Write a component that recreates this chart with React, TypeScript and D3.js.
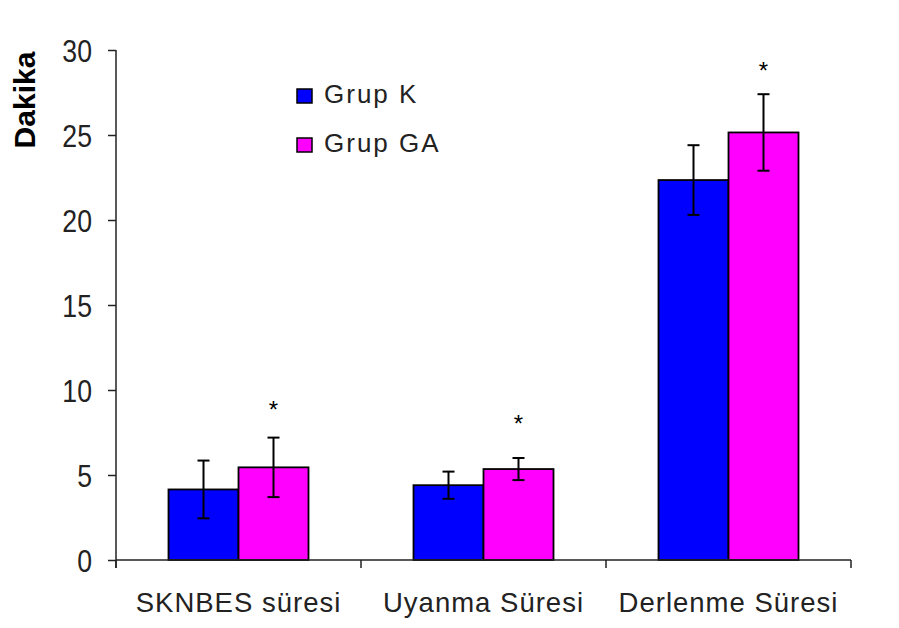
import { useEffect, useRef } from 'react'
import * as d3 from 'd3'

const WIDTH = 899
const HEIGHT = 628

const categories = ['SKNBES süresi', 'Uyanma Süresi', 'Derlenme Süresi']
const seriesNames = ['Grup K', 'Grup GA']
const seriesColors = ['#0000ff', '#ff00ff']

// mean and error for each group
const grupK = [4.15, 4.4, 22.35]
const grupKErr = [1.7, 0.8, 2.05]
const grupGA = [5.45, 5.35, 25.15]
const grupGAErr = [1.75, 0.65, 2.25]

// height where the significance star sits, per category
const starValues = [9.2, 8.35, 29.1]

const yTicks = [0, 5, 10, 15, 20, 25, 30]

const LEFT = 116
const RIGHT = 851
const TOP = 50
const BOTTOM = 560

function App() {
  const svgRef = useRef<SVGSVGElement | null>(null)

  useEffect(() => {
    if (!svgRef.current) return
    const svg = d3.select(svgRef.current)
    svg.selectAll('*').remove()

    const y = d3.scaleLinear().domain([0, 30]).range([BOTTOM, TOP])
    const x = d3.scaleBand<string>().domain(categories).range([LEFT, RIGHT]).padding(0)
    const x1 = d3.scaleBand<string>().domain(seriesNames).range([0, x.bandwidth()])
      .paddingInner(0).paddingOuter(0.75)

    const rows = categories.map((c, i) => ({
      cat: c,
      vals: [
        { s: seriesNames[0], v: grupK[i], e: grupKErr[i], color: seriesColors[0] },
        { s: seriesNames[1], v: grupGA[i], e: grupGAErr[i], color: seriesColors[1] },
      ],
    }))

    // bars
    const groups = svg.append('g').selectAll('g').data(rows).enter().append('g')
      .attr('transform', d => `translate(${x(d.cat)},0)`)

    groups.selectAll('rect').data(d => d.vals).enter().append('rect')
      .attr('x', d => x1(d.s)!)
      .attr('y', d => y(d.v))
      .attr('width', x1.bandwidth())
      .attr('height', d => y(0) - y(d.v))
      .attr('fill', d => d.color)
      .attr('stroke', '#000')
      .attr('stroke-width', 1.8)

    // error bars
    const cap = 6
    const eb = groups.selectAll('g.err').data(d => d.vals).enter().append('g').attr('class', 'err')
      .attr('stroke', '#000').attr('stroke-width', 2)
    eb.append('line')
      .attr('x1', d => x1(d.s)! + x1.bandwidth() / 2)
      .attr('x2', d => x1(d.s)! + x1.bandwidth() / 2)
      .attr('y1', d => y(d.v + d.e))
      .attr('y2', d => y(d.v - d.e))
    eb.append('line')
      .attr('x1', d => x1(d.s)! + x1.bandwidth() / 2 - cap)
      .attr('x2', d => x1(d.s)! + x1.bandwidth() / 2 + cap)
      .attr('y1', d => y(d.v + d.e))
      .attr('y2', d => y(d.v + d.e))
    eb.append('line')
      .attr('x1', d => x1(d.s)! + x1.bandwidth() / 2 - cap)
      .attr('x2', d => x1(d.s)! + x1.bandwidth() / 2 + cap)
      .attr('y1', d => y(d.v - d.e))
      .attr('y2', d => y(d.v - d.e))

    // stars
    groups.append('text')
      .attr('x', x1(seriesNames[1])! + x1.bandwidth() / 2)
      .attr('y', (_d, i) => y(starValues[i]) + 14)
      .attr('text-anchor', 'middle')
      .attr('font-family', 'Liberation Sans, Arial, sans-serif')
      .attr('font-size', 24)
      .attr('fill', '#000')
      .text('*')

    // y axis
    const yAxis = svg.append('g')
      .attr('transform', `translate(${LEFT},0)`)
      .call(d3.axisLeft(y).tickValues(yTicks).tickSize(8).tickFormat(d3.format('d')))
    yAxis.select('.domain').attr('stroke', '#222').attr('stroke-width', 1.5)
      .attr('d', `M0,${TOP}V${BOTTOM + 8}`)
    yAxis.selectAll('.tick line').attr('stroke', '#222').attr('stroke-width', 1.5)
    // labels are narrow and tall in the original
    yAxis.selectAll('.tick text')
      .attr('x', 0)
      .attr('transform', 'translate(-24,0) scale(0.86,1)')
      .attr('font-family', 'Liberation Sans, Arial, sans-serif')
      .attr('font-size', 31)
      .attr('fill', '#222')
      .attr('dy', '0.36em')

    // x axis
    const xAxis = svg.append('g')
      .attr('transform', `translate(0,${BOTTOM})`)
      .call(d3.axisBottom(x).tickSize(0))
    xAxis.select('.domain').attr('stroke', '#222').attr('stroke-width', 1.5)
      .attr('d', `M${LEFT},0H${RIGHT}`)
    xAxis.selectAll('.tick text')
      .attr('font-family', 'Liberation Sans, Arial, sans-serif')
      .attr('font-size', 27.5)
      .attr('letter-spacing', 1)
      .attr('fill', '#222')
      .attr('dy', '0.71em')
      .attr('y', 32)
    // ticks at band boundaries
    const bounds = [...categories.map(c => x(c)!), RIGHT]
    xAxis.selectAll('line.bound').data(bounds).enter().append('line')
      .attr('class', 'bound')
      .attr('x1', d => d).attr('x2', d => d)
      .attr('y1', 0).attr('y2', 8)
      .attr('stroke', '#222').attr('stroke-width', 1.5)

    // y title
    svg.append('text')
      .attr('transform', `translate(35,100) rotate(-90)`)
      .attr('text-anchor', 'middle')
      .attr('font-family', 'Liberation Sans, Arial, sans-serif')
      .attr('font-weight', 'bold')
      .attr('font-size', 30)
      .attr('fill', '#000')
      .text('Dakika')

    // legend
    const legend = svg.append('g').attr('transform', 'translate(297,89)')
    const li = legend.selectAll('g').data(seriesNames).enter().append('g')
      .attr('transform', (_d, i) => `translate(0,${i * 49})`)
    li.append('rect')
      .attr('width', 15).attr('height', 14)
      .attr('fill', (_d, i) => seriesColors[i])
      .attr('stroke', '#000').attr('stroke-width', 1.5)
    li.append('text')
      .attr('x', 27).attr('y', 14)
      .attr('font-family', 'Liberation Sans, Arial, sans-serif')
      .attr('font-size', 26)
      .attr('letter-spacing', 2)
      .attr('fill', '#222')
      .text(d => d)
  }, [])

  return (
    <svg
      ref={svgRef}
      width={WIDTH}
      height={HEIGHT}
      style={{ position: 'absolute', left: 0, top: 0, background: '#fff' }}
    />
  )
}

export default App
